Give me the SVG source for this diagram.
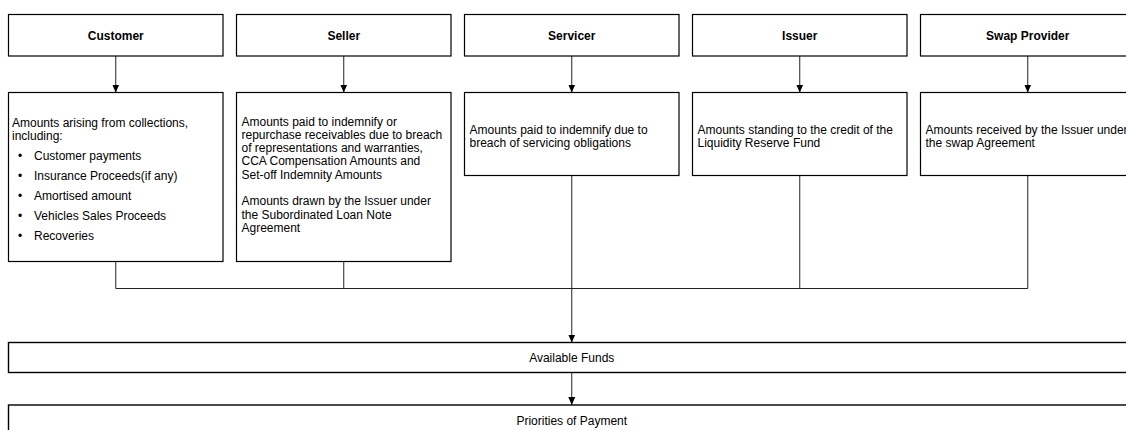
<svg xmlns="http://www.w3.org/2000/svg" width="1126" height="430" viewBox="0 0 1126 430">
  <defs>
    <marker id="arr" viewBox="0 0 8 8" refX="8" refY="4" markerWidth="8" markerHeight="8" markerUnits="userSpaceOnUse" orient="auto">
      <path d="M0,0.5 L8,4 L0,7.5 Z" fill="#000"/>
    </marker>
    <style>
      .box { fill: #fff; stroke: #000; stroke-width: 1.2; }
      .wide { fill: #fff; stroke: #000; stroke-width: 1.4; }
      .conn { fill: none; stroke: #222; stroke-width: 1; }
      .arrow { fill: none; stroke: #222; stroke-width: 1; marker-end: url(#arr); }
      .head { font-family: "Liberation Sans", Arial, sans-serif; font-size: 12px; font-weight: bold; fill: #000; text-anchor: middle; }
      .txt { font-family: "Liberation Sans", Arial, sans-serif; font-size: 12px; fill: #000; }
      .mid { text-anchor: middle; }
    </style>
  </defs>

  <rect width="1126" height="430" fill="#fff"/>

  <g id="connectors">
    <line class="arrow" x1="115.75" y1="56" x2="115.75" y2="92.5"/>
    <line class="arrow" x1="343.75" y1="56" x2="343.75" y2="92.5"/>
    <line class="arrow" x1="571.75" y1="56" x2="571.75" y2="92.5"/>
    <line class="arrow" x1="799.75" y1="56" x2="799.75" y2="92.5"/>
    <line class="arrow" x1="1027.75" y1="56" x2="1027.75" y2="92.5"/>
    <path class="conn" d="M115.75,261.5 V288.5 H1027.75 V175.5"/>
    <line class="conn" x1="343.75" y1="261.5" x2="343.75" y2="288.5"/>
    <line class="conn" x1="799.75" y1="175.5" x2="799.75" y2="288.5"/>
    <line class="arrow" x1="571.75" y1="175.5" x2="571.75" y2="342.5"/>
    <line class="arrow" x1="571.75" y1="372.5" x2="571.75" y2="405"/>
  </g>

  <g id="customer">
    <rect class="box" x="8.5" y="14.5" width="214.5" height="41.5"/>
    <text class="head" x="115.75" y="39.5">Customer</text>
  </g>
  <g id="seller">
    <rect class="box" x="236.5" y="14.5" width="214.5" height="41.5"/>
    <text class="head" x="343.75" y="39.5">Seller</text>
  </g>
  <g id="servicer">
    <rect class="box" x="464.5" y="14.5" width="214.5" height="41.5"/>
    <text class="head" x="571.75" y="39.5">Servicer</text>
  </g>
  <g id="issuer">
    <rect class="box" x="692.5" y="14.5" width="214.5" height="41.5"/>
    <text class="head" x="799.75" y="39.5">Issuer</text>
  </g>
  <g id="swap-provider">
    <rect class="box" x="920.5" y="14.5" width="214.5" height="41.5"/>
    <text class="head" x="1027.75" y="39.5">Swap Provider</text>
  </g>

  <g id="customer-amounts">
    <rect class="box" x="8.5" y="92.5" width="214.5" height="169"/>
    <text class="txt" x="12" y="126.8">Amounts arising from collections,</text>
    <text class="txt" x="12" y="140">including:</text>
    <text class="txt" x="18" y="159.5">•</text>
    <text class="txt" x="34" y="159.5">Customer payments</text>
    <text class="txt" x="18" y="179.7">•</text>
    <text class="txt" x="34" y="179.7">Insurance Proceeds(if any)</text>
    <text class="txt" x="18" y="200">•</text>
    <text class="txt" x="34" y="200">Amortised amount</text>
    <text class="txt" x="18" y="220.2">•</text>
    <text class="txt" x="34" y="220.2">Vehicles Sales Proceeds</text>
    <text class="txt" x="18" y="240.4">•</text>
    <text class="txt" x="34" y="240.4">Recoveries</text>
  </g>

  <g id="seller-amounts">
    <rect class="box" x="236.5" y="92.5" width="214.5" height="169"/>
    <text class="txt" x="241.5" y="125.5">Amounts paid to indemnify or</text>
    <text class="txt" x="241.5" y="138.8">repurchase receivables due to breach</text>
    <text class="txt" x="241.5" y="152.1">of representations and warranties,</text>
    <text class="txt" x="241.5" y="165.4">CCA Compensation Amounts and</text>
    <text class="txt" x="241.5" y="178.7">Set-off Indemnity Amounts</text>
    <text class="txt" x="241.5" y="205.3">Amounts drawn by the Issuer under</text>
    <text class="txt" x="241.5" y="218.6">the Subordinated Loan Note</text>
    <text class="txt" x="241.5" y="231.9">Agreement</text>
  </g>

  <g id="servicer-amounts">
    <rect class="box" x="464.5" y="92.5" width="214.5" height="83"/>
    <text class="txt" x="469.5" y="133.5">Amounts paid to indemnify due to</text>
    <text class="txt" x="469.5" y="146.8">breach of servicing obligations</text>
  </g>

  <g id="issuer-amounts">
    <rect class="box" x="692.5" y="92.5" width="214.5" height="83"/>
    <text class="txt" x="697.5" y="133.5">Amounts standing to the credit of the</text>
    <text class="txt" x="697.5" y="146.8">Liquidity Reserve Fund</text>
  </g>

  <g id="swap-amounts">
    <rect class="box" x="920.5" y="92.5" width="214.5" height="83"/>
    <text class="txt" x="925.5" y="133.5">Amounts received by the Issuer under</text>
    <text class="txt" x="925.5" y="146.8">the swap Agreement</text>
  </g>

  <g id="available-funds">
    <rect class="wide" x="8.5" y="342.5" width="1130" height="30"/>
    <text class="txt mid" x="571.75" y="361.8">Available Funds</text>
  </g>

  <g id="priorities-of-payment">
    <rect class="wide" x="8.5" y="405" width="1130" height="40"/>
    <text class="txt mid" x="571.75" y="425">Priorities of Payment</text>
  </g>
</svg>
